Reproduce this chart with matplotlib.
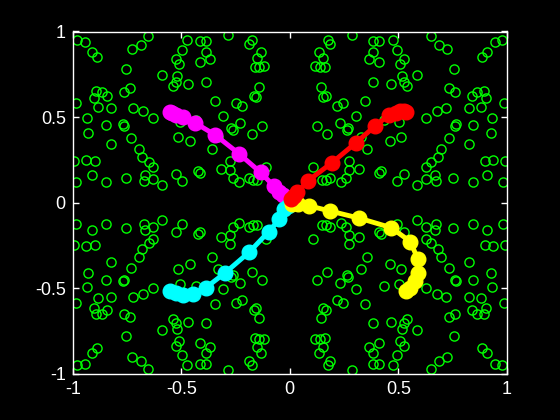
import numpy as np
import matplotlib
matplotlib.use('Agg')
import matplotlib.pyplot as plt

# green circles: one quadrant (|x|, |y|), the field is mirrored on both axes
quad_x = [0.149, 0.169, 0.187, 0.234, 0.261, 0.274, 0.318, 0.274, 0.108, 0.412,
          0.421, 0.495, 0.357, 0.329, 0.172, 0.126, 0.231, 0.264, 0.269, 0.306,
          0.346, 0.218, 0.246, 0.154, 0.166, 0.144, 0.433, 0.461, 0.384, 0.467,
          0.117, 0.141, 0.160, 0.151, 0.135, 0.366, 0.412, 0.384, 0.187, 0.175,
          0.384, 0.412, 0.476, 0.286, 0.587, 0.629, 0.672, 0.669, 0.753, 0.845,
          0.910, 0.984, 0.526, 0.629, 0.650, 0.682, 0.696, 0.899, 0.937, 0.994,
          0.825, 0.733, 0.928, 0.513, 0.762, 0.768, 0.845, 0.933, 0.629, 0.678,
          0.721, 0.825, 0.882, 0.987, 0.904, 0.841, 0.864, 0.894, 0.762, 0.735,
          0.538, 0.526, 0.518, 0.587, 0.756, 0.510, 0.526, 0.887, 0.910, 0.495,
          0.725, 0.687, 0.944, 0.979, 0.652, 0.504]
quad_y = [0.130, 0.130, 0.142, 0.121, 0.142, 0.189, 0.198, 0.243, 0.210, 0.171,
          0.183, 0.125, 0.315, 0.385, 0.403, 0.450, 0.467, 0.422, 0.434, 0.504,
          0.595, 0.566, 0.584, 0.617, 0.625, 0.675, 0.485, 0.360, 0.706, 0.695,
          0.798, 0.794, 0.792, 0.846, 0.881, 0.841, 0.819, 0.881, 0.928, 0.948,
          0.944, 0.944, 0.950, 0.979, 0.101, 0.140, 0.126, 0.162, 0.146, 0.123,
          0.160, 0.123, 0.169, 0.210, 0.235, 0.269, 0.315, 0.245, 0.251, 0.245,
          0.344, 0.379, 0.409, 0.385, 0.450, 0.457, 0.453, 0.492, 0.496, 0.533,
          0.551, 0.551, 0.560, 0.584, 0.613, 0.625, 0.648, 0.652, 0.648, 0.671,
          0.681, 0.706, 0.739, 0.747, 0.778, 0.808, 0.837, 0.852, 0.881, 0.889,
          0.899, 0.924, 0.940, 0.948, 0.973, 0.473]

# trajectories
magenta_x = [-0.005, -0.03, -0.05, -0.075, -0.135, -0.232, -0.343, -0.435, -0.493, -0.524, -0.545, -0.552]
magenta_y = [0.025, 0.045, 0.06, 0.099, 0.177, 0.284, 0.395, 0.465, 0.498, 0.51, 0.522, 0.53]
cyan_x = [-0.01, -0.025, -0.048, -0.097, -0.186, -0.297, -0.386, -0.447, -0.493, -0.525, -0.55]
cyan_y = [-0.02, -0.039, -0.097, -0.169, -0.288, -0.409, -0.496, -0.531, -0.537, -0.53, -0.515]
yellow_x = [0.01, 0.037, 0.09, 0.183, 0.321, 0.467, 0.556, 0.59, 0.59, 0.575, 0.552, 0.535]
yellow_y = [-0.005, -0.009, -0.019, -0.048, -0.091, -0.146, -0.228, -0.331, -0.409, -0.457, -0.496, -0.515]
red_x = [0.005, 0.02, 0.034, 0.083, 0.194, 0.306, 0.394, 0.455, 0.49, 0.51, 0.528, 0.537]
red_y = [0.02, 0.04, 0.06, 0.127, 0.233, 0.351, 0.449, 0.51, 0.525, 0.533, 0.535, 0.53]

ticks = [-1, -0.5, 0, 0.5, 1]
tick_labels = ['-1', '-0.5', '0', '0.5', '1']

qx = np.array(quad_x)
qy = np.array(quad_y)
field_x = np.concatenate([qx, -qx, qx, -qx])
field_y = np.concatenate([qy, qy, -qy, -qy])

plt.rcParams['font.family'] = ['Liberation Sans', 'DejaVu Sans']

fig = plt.figure(figsize=(5.6, 4.2), dpi=100, facecolor='black')
ax = fig.add_axes([0.13, 0.11, 0.775, 0.815], facecolor='black')

ax.plot(field_x, field_y, 'o', mfc='none', mec='#00ff00', ms=6.6, mew=1.0,
        ls='none', antialiased=False)

for xs, ys, c in [(magenta_x, magenta_y, '#ff00ff'), (cyan_x, cyan_y, '#00ffff'),
                  (yellow_x, yellow_y, '#ffff00'), (red_x, red_y, '#ff0000')]:
    ax.plot(xs, ys, '-o', color=c, lw=3.5, ms=10.5, mfc=c, mec=c)

ax.set_xlim(-1, 1)
ax.set_ylim(-1, 1)
ax.set_xticks(ticks)
ax.set_xticklabels(tick_labels)
ax.set_yticks(ticks)
ax.set_yticklabels(tick_labels)
ax.tick_params(direction='in', colors='white', labelsize=13, length=4, width=1,
               top=True, right=True, pad=5)
for s in ax.spines.values():
    s.set_color('white')
    s.set_linewidth(1)

fig.savefig('out.png', dpi=100, facecolor='black')
